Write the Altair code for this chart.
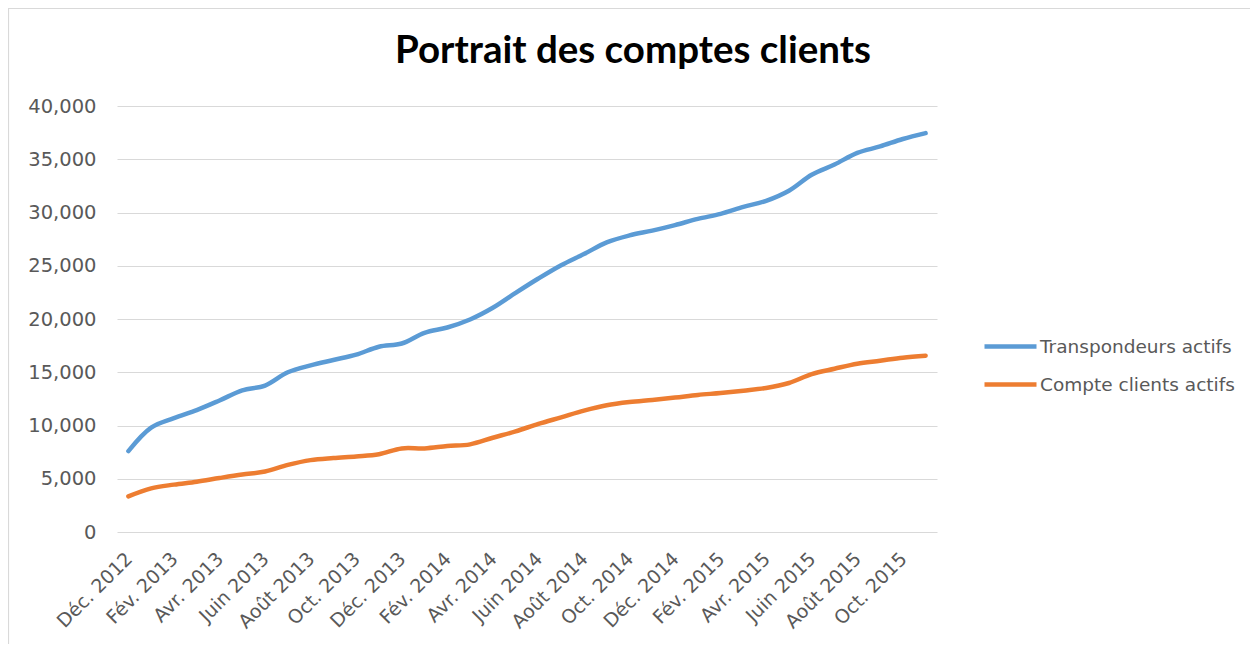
import altair as alt
import pandas as pd

months = [
    "Déc. 2012", "Janv. 2013", "Fév. 2013", "Mars 2013", "Avr. 2013", "Mai 2013",
    "Juin 2013", "Juil. 2013", "Août 2013", "Sept. 2013", "Oct. 2013", "Nov. 2013",
    "Déc. 2013", "Janv. 2014", "Fév. 2014", "Mars 2014", "Avr. 2014", "Mai 2014",
    "Juin 2014", "Juil. 2014", "Août 2014", "Sept. 2014", "Oct. 2014", "Nov. 2014",
    "Déc. 2014", "Janv. 2015", "Fév. 2015", "Mars 2015", "Avr. 2015", "Mai 2015",
    "Juin 2015", "Juil. 2015", "Août 2015", "Sept. 2015", "Oct. 2015", "Nov. 2015",
]
tick_labels = [
    "Déc. 2012", "Fév. 2013", "Avr. 2013", "Juin 2013", "Août 2013", "Oct. 2013",
    "Déc. 2013", "Fév. 2014", "Avr. 2014", "Juin 2014", "Août 2014", "Oct. 2014",
    "Déc. 2014", "Fév. 2015", "Avr. 2015", "Juin 2015", "Août 2015", "Oct. 2015",
]
transpondeurs = [
    7600, 9800, 10700, 11450, 12350, 13300, 13750, 15000, 15650, 16150, 16650, 17400,
    17700, 18700, 19200, 19950, 21050, 22450, 23800, 25050, 26100, 27200, 27850, 28300,
    28820, 29400, 29870, 30520, 31100, 32050, 33550, 34500, 35600, 36200, 36900, 37450,
]
comptes = [
    3350, 4100, 4450, 4720, 5070, 5400, 5680, 6300, 6750, 6950, 7100, 7300,
    7850, 7850, 8070, 8230, 8850, 9450, 10150, 10770, 11400, 11900, 12200, 12400,
    12620, 12870, 13050, 13270, 13520, 13990, 14830, 15330, 15800, 16080, 16370, 16550,
]
series_names = ["Transpondeurs actifs", "Compte clients actifs"]
series_colors = ["#5B9BD5", "#ED7D31"]
y_ticks = [0, 5000, 10000, 15000, 20000, 25000, 30000, 35000, 40000]

rows = []
for name, vals in zip(series_names, [transpondeurs, comptes]):
    for m, v in zip(months, vals):
        rows.append({"mois": m, "serie": name, "valeur": v})
df = pd.DataFrame(rows)

FONT = "DejaVu Sans"
TXT = "#595959"

lines = alt.Chart(df).mark_line(strokeWidth=4.5, interpolate="catmull-rom", strokeCap="round").encode(
    x=alt.X("mois:O", sort=months, title=None,
            scale=alt.Scale(padding=0.5),
            axis=alt.Axis(values=tick_labels, labelAngle=-45, labelFontSize=19,
                          labelColor=TXT, labelFont=FONT, ticks=False, domain=False,
                          grid=False, labelPadding=17, labelOffset=-6)),
    y=alt.Y("valeur:Q", title=None,
            scale=alt.Scale(domain=[0, 40000], nice=False),
            axis=alt.Axis(values=y_ticks, format=",.0f", labelFontSize=19.5, labelColor=TXT,
                          labelFont=FONT, ticks=False, domain=False, gridColor="#D9D9D9",
                          gridWidth=1.2, labelPadding=21)),
    color=alt.Color("serie:N", sort=series_names,
                    scale=alt.Scale(domain=series_names, range=series_colors),
                    legend=alt.Legend(title=None, orient="none", legendX=865, legendY=212,
                                      labelFontSize=18.5, labelColor=TXT, labelFont=FONT,
                                      labelLimit=400,
                                      symbolType="stroke", symbolSize=2704,
                                      symbolStrokeWidth=4.5, labelOffset=1,
                                      rowPadding=-9)),
)

border = alt.Chart(pd.DataFrame({"b": [0]})).mark_rect(
    fill="transparent", stroke="#D9D9D9", strokeWidth=1.2, clip=False
).encode(
    x=alt.value(-108.5), x2=alt.value(1400), y=alt.value(-97.5), y2=alt.value(800)
)

chart = alt.layer(border, lines).properties(
    width=820, height=426,
    background="white",
    padding={"left": 109, "top": 98, "right": 313, "bottom": 112},
    autosize=alt.AutoSizeParams(type="none"),
    title=alt.TitleParams("Portrait des comptes clients", fontSize=38.5, font="Lato",
                          fontWeight="bold", color="#000000", anchor="middle",
                          frame="group", dx=106, offset=-94, baseline="alphabetic"),
).configure_view(strokeWidth=0, stroke="transparent").configure_axis(
    domain=False, ticks=False
)

chart.save("out.html", embed_options={"renderer": "svg", "actions": False})
